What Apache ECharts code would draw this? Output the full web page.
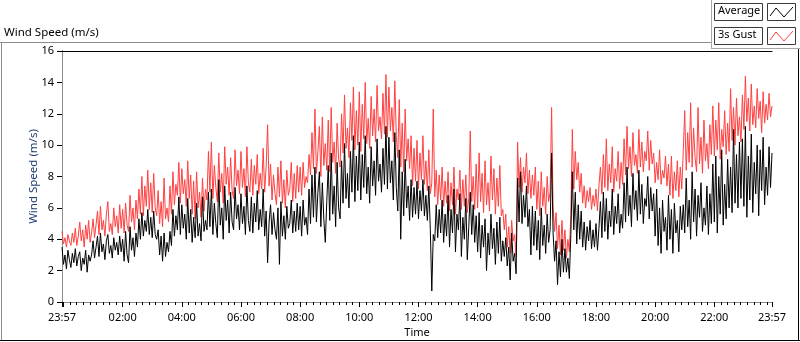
<!DOCTYPE html>
<html>
<head>
<meta charset="utf-8">
<script src="https://cdn.jsdelivr.net/npm/echarts@6.0.0/dist/echarts.min.js"></script>
<style>
  html, body { margin: 0; padding: 0; background: #fff; }
  #chart { width: 800px; height: 342px; }
</style>
</head>
<body>
<div id="chart"></div>
<script>
// one sample every 3 minutes, from 23:57 (minute 0) to 23:57 next day (minute 1440)
const stepMinutes = 3;

// 3s gust, 20 samples per hour
const gust = [
  4.5, 3.7, 4.1, 3.5, 4.3, 3.9, 3.6, 4.4, 3.8, 4.7, 3.6, 4.2, 5.1, 3.9, 4.6, 3.5, 4.9, 4.0, 5.2, 3.8,
  4.4, 5.3, 4.1, 4.9, 5.8, 4.3, 6.1, 4.6, 5.2, 4.2, 5.6, 6.4, 4.5, 5.0, 4.3, 6.0, 4.8, 5.5, 4.4, 6.2,
  4.7, 5.9, 4.4, 6.3, 4.9, 4.5, 6.8, 5.1, 6.0, 4.6, 6.5, 5.3, 7.2, 5.6, 8.0, 5.5, 7.4, 6.1, 8.4, 5.9,
  7.6, 5.7, 8.2, 6.0, 5.5, 7.1, 5.0, 6.4, 4.8, 7.9, 5.3, 6.0, 5.1, 7.4, 5.6, 8.3, 6.2, 7.5, 6.8, 8.9,
  6.3, 8.5, 6.9, 7.8, 6.1, 9.0, 6.6, 8.1, 5.6, 7.7, 5.3, 8.3, 6.0, 7.0, 5.4, 7.9, 5.8, 7.2, 6.5, 9.6,
  7.0, 10.2, 6.6, 8.7, 7.3, 6.4, 9.5, 7.0, 8.2, 6.3, 9.9, 7.5, 8.6, 6.8, 9.2, 7.1, 6.6, 9.7, 7.4, 8.4,
  6.9, 9.6, 7.3, 8.5, 6.7, 9.9, 7.6, 7.0, 9.1, 6.8, 8.7, 7.5, 9.4, 6.9, 8.2, 7.2, 9.8, 7.0, 8.6, 11.3,
  7.4, 8.8, 6.5, 8.1, 6.9, 6.2, 8.6, 6.7, 9.0, 6.3, 7.8, 6.0, 8.4, 6.8, 7.2, 8.9, 6.4, 8.2, 6.6, 8.7,
  7.0, 8.6, 6.8, 8.9, 7.3, 8.0, 7.6, 9.4, 8.1, 10.8, 8.5, 12.3, 8.2, 9.6, 11.2, 8.0, 11.8, 8.7, 10.1, 8.4,
  11.6, 8.3, 12.4, 8.9, 10.2, 8.2, 11.4, 9.1, 8.6, 12.0, 9.5, 13.2, 9.8, 11.1, 9.2, 12.7, 10.3, 13.7, 9.7, 12.2,
  10.0, 13.4, 9.6, 12.6, 10.4, 14.0, 10.1, 11.7, 9.8, 13.1, 10.6, 12.3, 10.2, 13.8, 10.9, 11.8, 10.4, 13.3, 10.7, 14.5,
  10.5, 13.7, 10.9, 12.4, 10.2, 14.1, 10.6, 9.2, 12.9, 8.6, 11.4, 8.3, 12.3, 9.0, 10.4, 8.5, 10.6, 7.4, 9.8, 7.7,
  10.3, 7.2, 9.5, 7.8, 10.6, 7.5, 9.0, 7.1, 9.7, 6.9, 7.6, 12.3, 6.7, 8.4, 6.2, 8.1, 6.5, 8.6, 6.1, 7.7,
  6.3, 8.3, 5.8, 7.6, 6.2, 8.6, 5.6, 7.2, 6.5, 8.4, 5.9, 7.8, 6.1, 8.1, 5.7, 6.6, 10.9, 6.4, 8.0, 5.9,
  8.8, 6.0, 9.5, 6.4, 8.2, 5.7, 9.0, 6.2, 7.6, 5.8, 9.3, 6.5, 8.5, 5.6, 7.9, 6.1, 8.7, 5.5, 5.9, 4.6,
  5.6, 3.5, 4.8, 3.1, 5.2, 3.9, 4.3, 2.9, 10.2, 7.3, 9.2, 7.0, 8.6, 7.6, 9.5, 6.9, 8.4, 6.6, 8.1, 6.8,
  8.6, 5.9, 7.7, 5.5, 8.3, 6.1, 7.3, 5.6, 8.0, 6.4, 7.0, 12.4, 6.1, 4.5, 5.7, 3.4, 4.9, 3.0, 5.2, 3.3,
  4.6, 2.8, 4.0, 3.2, 5.5, 11.0, 7.2, 9.6, 7.8, 8.9, 7.0, 8.2, 6.3, 7.4, 6.0, 7.1, 6.4, 7.3, 5.9, 6.8,
  6.1, 7.2, 5.8, 7.4, 8.6, 6.9, 9.4, 7.3, 10.4, 7.1, 8.8, 7.6, 9.9, 7.0, 8.5, 7.7, 9.6, 7.2, 8.9, 7.5,
  10.4, 8.1, 11.2, 8.5, 9.9, 8.0, 10.8, 8.7, 9.4, 8.2, 11.0, 8.6, 10.2, 8.3, 9.6, 9.0, 10.9, 8.4, 10.3, 8.8,
  9.5, 7.6, 8.9, 7.8, 9.7, 7.5, 8.4, 7.9, 9.3, 7.4, 8.8, 6.8, 9.3, 6.6, 8.3, 7.1, 9.0, 6.7, 8.6, 7.2,
  9.6, 12.2, 8.4, 10.8, 8.9, 12.7, 8.6, 11.1, 9.2, 8.3, 12.4, 8.8, 10.5, 8.2, 11.6, 9.0, 10.1, 8.5, 11.3, 9.4,
  12.5, 9.3, 11.6, 9.7, 12.7, 9.1, 11.0, 9.9, 12.2, 9.4, 11.4, 9.6, 13.6, 10.3, 12.4, 10.0, 13.0, 10.6, 11.8, 10.2,
  13.2, 11.0, 14.4, 11.5, 13.0, 10.9, 13.9, 11.3, 12.5, 11.1, 13.6, 11.7, 12.8, 10.8, 13.4, 11.4, 12.6, 11.6, 13.3, 11.8,
  12.5
];

// average wind speed, same sampling
const average = [
  3.5, 2.4, 3.0, 2.1, 3.3, 2.7, 2.2, 3.1, 2.5, 3.4, 2.3, 2.9, 3.2, 2.0, 2.8, 2.4, 3.3, 1.9, 3.0, 2.6,
  3.0, 3.9, 2.8, 3.5, 4.2, 2.9, 4.4, 3.2, 3.7, 2.7, 3.9, 4.3, 3.1, 3.6, 2.8, 4.1, 3.3, 3.8, 3.0, 4.2,
  3.2, 4.0, 2.6, 4.5, 3.0, 2.5, 4.8, 3.3, 4.1, 2.9, 4.4, 3.5, 5.3, 4.0, 5.7, 4.2, 5.2, 4.5, 5.9, 4.3,
  5.4, 4.1, 5.8, 4.3, 4.0, 4.6, 3.0, 4.2, 2.6, 4.4, 2.9, 3.8, 3.2, 4.5, 3.6, 5.9, 4.2, 5.5, 4.6, 6.7,
  4.3, 6.2, 4.7, 5.6, 4.0, 6.6, 4.4, 5.9, 3.8, 5.4, 4.1, 6.3, 4.2, 5.0, 3.9, 6.7, 4.5, 5.2, 4.6, 7.0,
  4.8, 7.2, 4.3, 6.3, 5.0, 4.1, 7.8, 4.9, 6.0, 4.0, 7.4, 5.2, 6.5, 4.4, 7.0, 5.1, 4.6, 7.3, 5.3, 6.2,
  4.6, 6.9, 5.0, 6.1, 4.3, 7.4, 5.2, 4.5, 6.7, 4.4, 6.3, 5.1, 7.1, 4.6, 5.9, 4.8, 7.2, 4.2, 5.8, 2.5,
  5.1, 6.2, 4.3, 5.7, 4.6, 4.0, 6.0, 2.4, 6.4, 4.2, 5.5, 4.0, 6.1, 4.7, 5.0, 6.5, 4.4, 5.8, 4.5, 6.3,
  4.6, 6.1, 4.2, 6.5, 4.9, 5.4, 4.3, 7.2, 5.0, 8.1, 5.4, 8.6, 5.1, 7.0, 8.3, 4.8, 7.6, 5.3, 3.8, 6.4,
  8.7, 5.2, 9.5, 5.6, 7.4, 4.8, 8.9, 6.0, 5.3, 9.0, 6.3, 10.1, 6.6, 8.2, 6.0, 9.6, 7.0, 10.6, 6.4, 9.3,
  7.1, 10.2, 6.5, 9.4, 7.3, 10.6, 6.9, 8.6, 6.3, 9.9, 7.4, 9.0, 6.8, 10.4, 7.7, 8.8, 7.0, 9.8, 7.5, 11.2,
  7.2, 10.5, 7.6, 9.0, 6.5, 10.8, 7.3, 5.8, 9.7, 4.0, 8.3, 5.5, 9.1, 6.0, 7.4, 5.2, 7.8, 5.4, 7.3, 5.6,
  7.7, 5.3, 7.1, 5.8, 7.8, 5.5, 6.8, 5.2, 7.4, 4.6, 0.7, 4.3, 3.9, 6.2, 4.1, 5.9, 4.4, 6.5, 3.8, 5.6,
  4.2, 6.8, 3.5, 5.9, 4.4, 7.2, 3.2, 5.6, 4.6, 6.9, 2.9, 5.4, 4.0, 6.6, 2.7, 4.8, 7.0, 4.3, 6.2, 3.8,
  5.5, 3.2, 5.7, 2.8, 4.9, 3.5, 5.3, 2.0, 4.4, 3.0, 5.6, 3.4, 4.7, 2.4, 5.1, 3.1, 5.4, 2.6, 3.9, 2.9,
  4.1, 2.3, 3.5, 1.4, 4.4, 2.6, 3.1, 1.8, 7.9, 5.1, 8.3, 5.0, 6.8, 5.4, 7.4, 4.8, 5.9, 3.0, 6.1, 3.6,
  5.8, 3.3, 5.2, 2.7, 6.0, 3.6, 4.9, 3.1, 5.6, 3.8, 4.6, 9.5, 4.4, 2.6, 3.9, 1.1, 3.2, 1.6, 4.0, 1.9,
  3.4, 1.9, 2.8, 1.5, 4.3, 8.3, 4.6, 7.0, 3.7, 6.2, 4.0, 5.8, 3.5, 5.1, 3.3, 4.8, 3.9, 5.2, 3.4, 4.6,
  3.5, 5.0, 3.3, 4.7, 6.4, 4.1, 7.0, 4.5, 6.6, 4.0, 5.8, 4.8, 7.2, 4.3, 6.1, 5.0, 6.9, 4.4, 5.6, 4.7,
  7.6, 5.1, 8.6, 5.5, 6.8, 4.8, 8.2, 5.9, 7.1, 5.2, 8.4, 5.6, 7.5, 5.0, 6.6, 6.1, 8.0, 5.3, 7.3, 5.8,
  6.9, 4.2, 7.2, 3.6, 6.0, 3.1, 6.5, 4.5, 5.4, 3.3, 6.8, 4.0, 5.9, 3.1, 6.3, 4.4, 5.2, 3.2, 6.1, 4.6,
  6.2, 4.4, 7.9, 4.8, 6.5, 4.0, 8.3, 5.1, 7.2, 4.2, 6.8, 5.4, 7.6, 4.5, 6.0, 4.9, 7.4, 4.3, 6.9, 5.0,
  8.8, 5.1, 9.3, 4.4, 8.0, 5.6, 9.7, 4.9, 7.5, 5.3, 9.1, 6.0, 8.6, 5.7, 11.0, 6.3, 9.4, 6.0, 10.2, 6.6,
  10.4, 6.1, 11.2, 5.4, 9.3, 6.5, 10.7, 5.7, 8.9, 6.9, 10.0, 5.5, 9.7, 7.1, 10.5, 6.2, 8.6, 6.8, 9.9, 7.3,
  9.5
];

// x labels and where they sit (minutes after 23:57)
const timeLabels = ['23:57', '02:00', '04:00', '06:00', '08:00', '10:00', '12:00',
  '14:00', '16:00', '18:00', '20:00', '22:00', '23:57'];
const labelMinutes = [0, 123, 243, 363, 483, 603, 723, 843, 963, 1083, 1203, 1323, 1440];
const majorTicks = [0, 3, 123, 243, 363, 483, 603, 723, 843, 963, 1083, 1203, 1323, 1440];

const FONT = '"Noto Sans", "DejaVu Sans", sans-serif';

// minor ticks every 40/3 minutes from 00:00
const minorTicks = [];
for (let k = 0; 3 + k * 40 / 3 < 1440; k++) minorTicks.push(3 + k * 40 / 3);

const toPairs = arr => arr.map((v, i) => [i * stepMinutes, v]);

const chart = echarts.init(document.getElementById('chart'), null, { renderer: 'canvas' });

const option = {
  animation: false,
  backgroundColor: '#fff',
  grid: { left: 62, top: 51, right: 28, bottom: 40, show: false, outerBoundsMode: 'none', containLabel: false },
  xAxis: [
    {
      type: 'value', min: 0, max: 1440, position: 'bottom',
      name: 'Time', nameLocation: 'middle', nameGap: 25, nameMoveOverlap: false,
      nameTextStyle: { fontFamily: FONT, fontSize: 11, color: '#000' },
      axisLine: { show: true, lineStyle: { color: '#8c8c8c', width: 1 } },
      axisTick: { show: true, length: 5, customValues: majorTicks, lineStyle: { color: '#000' } },
      axisLabel: {
        margin: 10, fontFamily: FONT, fontSize: 11, color: '#000',
        customValues: labelMinutes,
        formatter: v => timeLabels[labelMinutes.indexOf(v)] || ''
      },
      splitLine: { show: false }
    },
    {
      // minor ticks only
      type: 'value', min: 0, max: 1440, position: 'bottom',
      axisLine: { show: false },
      axisTick: { show: true, length: 3, customValues: minorTicks, lineStyle: { color: '#000' } },
      axisLabel: { show: false },
      splitLine: { show: false }
    },
    {
      // top frame line
      type: 'value', min: 0, max: 1440, position: 'top',
      axisLine: { show: true, lineStyle: { color: '#000' } },
      axisTick: { show: false }, axisLabel: { show: false }, splitLine: { show: false }
    }
  ],
  yAxis: [
    {
      type: 'value', min: 0, max: 16, interval: 2, position: 'left',
      name: 'Wind Speed (m/s)', nameLocation: 'middle', nameGap: 22, nameMoveOverlap: false,
      nameTextStyle: { fontFamily: FONT, fontSize: 11.5, color: '#1f3b73' },
      axisLine: { show: true, lineStyle: { color: '#000' } },
      axisTick: { show: true, length: 5, lineStyle: { color: '#000' } },
      axisLabel: { margin: 8, fontFamily: FONT, fontSize: 11, color: '#000' },
      splitLine: { show: false }
    },
    {
      // right frame line
      type: 'value', min: 0, max: 16, position: 'right',
      axisLine: { show: true, lineStyle: { color: '#8c8c8c' } },
      axisTick: { show: false }, axisLabel: { show: false }, splitLine: { show: false }
    }
  ],
  series: [
    {
      name: '3s Gust', type: 'line', data: toPairs(gust),
      showSymbol: false, symbol: 'none',
      lineStyle: { color: '#ff4040', width: 1 }
    },
    {
      name: 'Average', type: 'line', data: toPairs(average),
      showSymbol: false, symbol: 'none',
      lineStyle: { color: '#000', width: 1 }
    }
  ],
  graphic: [
    { type: 'text', left: 4, top: 27, style: { text: 'Wind Speed (m/s)', font: '11.5px ' + FONT, fill: '#000' } },
    // outer panel
    { type: 'line', shape: { x1: 0, y1: 42.5, x2: 712, y2: 42.5 }, style: { stroke: '#8c8c8c', lineWidth: 1 } },
    { type: 'line', shape: { x1: 1.5, y1: 42, x2: 1.5, y2: 341 }, style: { stroke: '#8c8c8c', lineWidth: 1 } },
    { type: 'line', shape: { x1: 0, y1: 340.5, x2: 800, y2: 340.5 }, style: { stroke: '#000', lineWidth: 1 } },
    { type: 'line', shape: { x1: 798.5, y1: 49, x2: 798.5, y2: 341 }, style: { stroke: '#000', lineWidth: 1 } },
    // legend panel
    { type: 'line', shape: { x1: 711.5, y1: 0, x2: 711.5, y2: 49 }, style: { stroke: '#a8a8a8', lineWidth: 1 } },
    { type: 'line', shape: { x1: 711, y1: 48.5, x2: 800, y2: 48.5 }, style: { stroke: '#a8a8a8', lineWidth: 1 } },
    { type: 'rect', shape: { x: 714.5, y: 3.5, width: 48, height: 17 }, style: { fill: '#fff', stroke: '#3a3a3a', lineWidth: 1 } },
    { type: 'text', left: 718, top: 5, style: { text: 'Average', font: '11px ' + FONT, fill: '#000' } },
    { type: 'rect', shape: { x: 767.5, y: 3.5, width: 28, height: 17 }, style: { fill: '#fff', stroke: '#3a3a3a', lineWidth: 1 } },
    { type: 'polyline', shape: { points: [[770, 16], [776, 8], [784, 17], [793, 7]] }, style: { stroke: '#000', lineWidth: 1, fill: null } },
    { type: 'rect', shape: { x: 714.5, y: 27.5, width: 48, height: 17 }, style: { fill: '#fff', stroke: '#3a3a3a', lineWidth: 1 } },
    { type: 'text', left: 718, top: 29, style: { text: '3s Gust', font: '11px ' + FONT, fill: '#000' } },
    { type: 'rect', shape: { x: 767.5, y: 27.5, width: 28, height: 17 }, style: { fill: '#fff', stroke: '#3a3a3a', lineWidth: 1 } },
    { type: 'polyline', shape: { points: [[770, 40], [776, 32], [784, 41], [793, 31]] }, style: { stroke: '#ff4040', lineWidth: 1, fill: null } }
  ]
};

chart.setOption(option);
</script>
</body>
</html>
